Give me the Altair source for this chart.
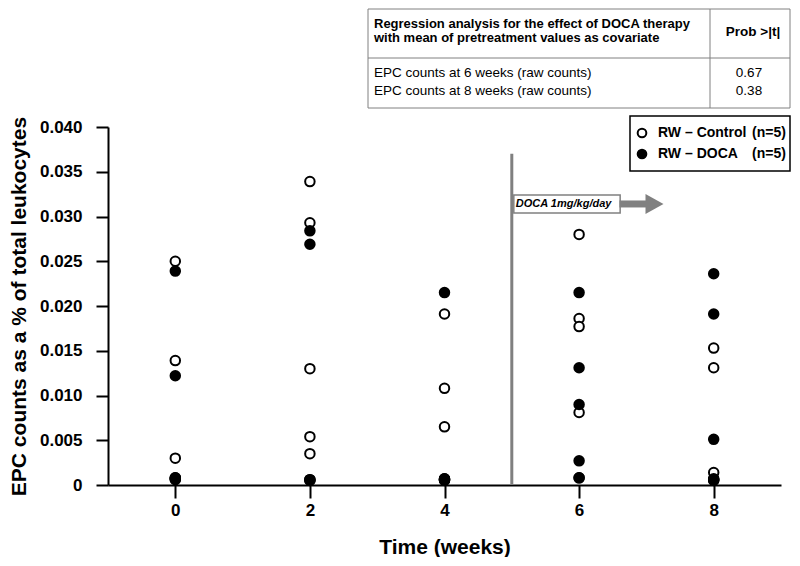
import altair as alt
import pandas as pd

FONT = "Liberation Sans"

# ---- data ----
weeks = [0, 2, 4, 6, 8]
control_values = [
    [0.0250, 0.0139, 0.0030, 0.0008, 0.0007],   # week 0
    [0.0339, 0.0293, 0.0130, 0.0054, 0.0035],   # week 2
    [0.0191, 0.0108, 0.0065, 0.0007, 0.0006],   # week 4
    [0.0280, 0.0186, 0.0177, 0.0081, 0.0008],   # week 6
    [0.0153, 0.0131, 0.0014, 0.0007, 0.0006],   # week 8
]
doca_values = [
    [0.0239, 0.0122, 0.0008, 0.0007, 0.0006],   # week 0
    [0.0284, 0.0269, 0.0006, 0.0006, 0.0005],   # week 2
    [0.0215, 0.0006, 0.0007, 0.0006, 0.0005],   # week 4
    [0.0215, 0.0131, 0.0090, 0.0027, 0.0008],   # week 6
    [0.0236, 0.0191, 0.0051, 0.0006, 0.0005],   # week 8
]
y_ticks = [0, 0.005, 0.010, 0.015, 0.020, 0.025, 0.030, 0.035, 0.040]

legend_labels = ["RW \u2013 Control", "RW \u2013 DOCA"]
legend_n = "(n=5)"

table_header = ["Regression analysis for the effect of DOCA therapy",
                "with mean of pretreatment values as covariate"]
table_col2 = "Prob >|t|"
table_rows = ["EPC counts at 6 weeks (raw counts)", "EPC counts at 8 weeks (raw counts)"]
table_probs = ["0.67", "0.38"]

treatment_week = 5
treatment_label = "DOCA 1mg/kg/day"

# ---- tables ----
def long(vals):
    rows = []
    for w, vs in zip(weeks, vals):
        for v in vs:
            rows.append({"x": w, "y": v})
    return pd.DataFrame(rows)

df_c = long(control_values)
df_d = long(doca_values)
dummy = pd.DataFrame({"a": [0]})

W, H = 673, 358
xscale = alt.Scale(domain=[-1, 9], nice=False, zero=False)
yscale = alt.Scale(domain=[0, 0.04], nice=False)

xaxis = alt.Axis(values=weeks, title="Time (weeks)", grid=False,
                 labelFontSize=17, labelFontWeight="bold", labelFont=FONT,
                 titleFontSize=21, titleFontWeight="bold", titleFont=FONT,
                 tickSize=13, tickWidth=2, tickColor="black",
                 domainColor="black", domainWidth=2, labelColor="black",
                 titleColor="black", labelPadding=4, titlePadding=18)
yaxis = alt.Axis(values=y_ticks, title="EPC counts as a % of total leukocytes",
                 grid=False,
                 labelExpr="datum.value == 0 ? '0' : format(datum.value, '.3f')",
                 labelFontSize=17, labelFontWeight="bold", labelFont=FONT,
                 titleFontSize=21, titleFontWeight="bold", titleFont=FONT,
                 tickSize=12, tickWidth=2, tickColor="black",
                 domainColor="black", domainWidth=2, labelColor="black",
                 titleColor="black", labelPadding=14, titlePadding=10)


def X():
    return alt.X("x:Q", scale=xscale, axis=xaxis)


def Y():
    return alt.Y("y:Q", scale=yscale, axis=yaxis)


open_pts = alt.Chart(df_c).mark_point(
    shape="circle", filled=True, fill="white", stroke="black",
    strokeWidth=2, size=90, opacity=1
).encode(x=X(), y=Y())
filled_pts = alt.Chart(df_d).mark_point(
    shape="circle", filled=True, fill="black", stroke="black",
    strokeWidth=2, size=90, opacity=1
).encode(x=X(), y=Y())

# treatment line and arrow annotation (data coordinates)
vline = alt.Chart(pd.DataFrame({"x": [treatment_week], "y": [0], "y2": [0.037]})).mark_rule(
    color="#808080", strokeWidth=3
).encode(x=X(), y=Y(), y2="y2:Q")

arrow_shaft = alt.Chart(pd.DataFrame({"x": [6.6], "x2": [7.0], "y": [0.0314]})).mark_rule(
    color="#808080", strokeWidth=7
).encode(x=X(), x2="x2:Q", y=Y())
arrow_head = alt.Chart(pd.DataFrame({"x": [7.12], "y": [0.0314]})).mark_point(
    shape="M -0.9 -1 L 0.9 0 L -0.9 1 Z", filled=True, fill="#808080",
    strokeWidth=0, size=400, opacity=1
).encode(x=X(), y=Y())
doca_box = alt.Chart(pd.DataFrame({"x": [5.03], "x2": [6.61], "y": [0.0324], "y2": [0.0304]})).mark_rect(
    fill="white", stroke="#808080", strokeWidth=1.5
).encode(x=X(), x2="x2:Q", y=Y(), y2="y2:Q")
doca_text = alt.Chart(pd.DataFrame({"x": [5.06], "y": [0.0314], "t": [treatment_label]})).mark_text(
    align="left", baseline="middle", fontSize=11, fontWeight="bold",
    fontStyle="italic", font=FONT, color="black"
).encode(x=X(), y=Y(), text="t:N")


# pixel-positioned table & legend
def txt(s, x, y, size, weight="normal", align="left"):
    return alt.Chart(dummy).mark_text(
        text=s, align=align, baseline="middle", fontSize=size,
        fontWeight=weight, font=FONT, color="black"
    ).encode(x=alt.value(x), y=alt.value(y))


def hline(x1, x2, y, color="#808080", w=1):
    return alt.Chart(dummy).mark_rule(color=color, strokeWidth=w).encode(
        x=alt.value(x1), x2=alt.value(x2), y=alt.value(y), y2=alt.value(y))


def vrule(x, y1, y2, color="#808080", w=1):
    return alt.Chart(dummy).mark_rule(color=color, strokeWidth=w).encode(
        x=alt.value(x), x2=alt.value(x), y=alt.value(y1), y2=alt.value(y2))


tbl_box = alt.Chart(dummy).mark_rect(fill="white", stroke="#808080", strokeWidth=1).encode(
    x=alt.value(260), x2=alt.value(682), y=alt.value(-118), y2=alt.value(-19))
tbl_layers = [
    tbl_box,
    hline(260, 682, -69),
    vrule(602, -118, -19),
    txt(table_header[0], 266, -103, 13, "bold"),
    txt(table_header[1], 266, -89.5, 13, "bold"),
    txt(table_col2, 645, -95, 13.5, "bold", "center"),
    txt(table_rows[0], 266, -54, 13.5),
    txt(table_rows[1], 266, -36, 13.5),
    txt(table_probs[0], 641, -54, 13.5, "normal", "center"),
    txt(table_probs[1], 641, -36, 13.5, "normal", "center"),
]

leg_box = alt.Chart(dummy).mark_rect(fill="white", stroke="black", strokeWidth=1.5).encode(
    x=alt.value(522), x2=alt.value(682), y=alt.value(-11), y2=alt.value(44))
leg_open = alt.Chart(dummy).mark_point(shape="circle", filled=True, fill="white", stroke="black",
                                       strokeWidth=2, size=75, opacity=1).encode(
    x=alt.value(534), y=alt.value(6))
leg_fill = alt.Chart(dummy).mark_point(shape="circle", filled=True, fill="black", stroke="black",
                                       strokeWidth=2, size=75, opacity=1).encode(
    x=alt.value(534), y=alt.value(27))
leg_layers = [
    leg_box, leg_open, leg_fill,
    txt(legend_labels[0], 550, 6, 14, "bold"),
    txt(legend_labels[1], 550, 27, 14, "bold"),
    txt(legend_n, 644, 6, 14, "bold"),
    txt(legend_n, 644, 27, 14, "bold"),
]

chart = alt.layer(
    open_pts, filled_pts, vline, doca_box, doca_text, arrow_shaft, arrow_head,
    *tbl_layers, *leg_layers
).properties(width=W, height=H, padding=0).configure_view(stroke=None)

chart.save("out.html", embed_options={"renderer": "svg", "actions": False})
